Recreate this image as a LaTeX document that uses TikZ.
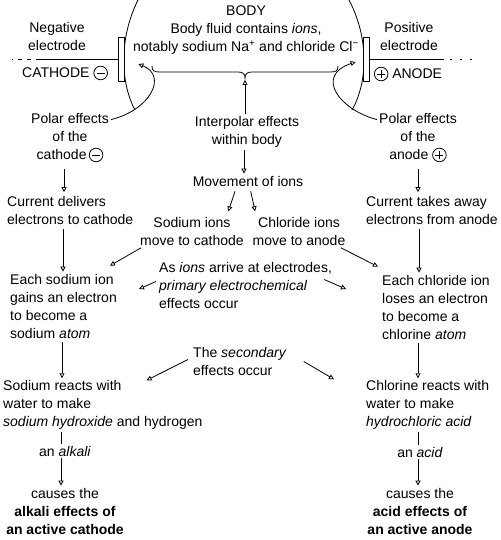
\documentclass[tikz,border=0pt]{standalone}
\usepackage{fontspec}
\setmainfont{Liberation Sans}
\usetikzlibrary{arrows.meta,calc}
\newcommand{\cminus}{\tikz[baseline=-5pt]{\draw[line width=0.8pt] (0pt,0pt) circle[radius=6.8pt]; \draw[line width=0.9pt] (-4pt,0pt) -- (4pt,0pt);}}
\newcommand{\cplus}{\tikz[baseline=-5pt]{\draw[line width=0.8pt] (0pt,0pt) circle[radius=6.8pt]; \draw[line width=0.9pt] (-4pt,0pt) -- (4pt,0pt) (0pt,-4pt) -- (0pt,4pt);}}
\begin{document}
\begin{tikzpicture}[x=1pt,y=-1pt,
 txt/.style={inner sep=2pt,font=\fontsize{14}{18}\selectfont},
 arr/.style={-{Triangle[open,length=5pt,width=5pt]},line width=0.8pt},
 lin/.style={line width=0.8pt},
 plate/.style={draw,fill=white,line width=0.8pt,minimum width=6pt,minimum height=44pt,inner sep=0pt}]
\fill[white] (0,0) rectangle (500,540);
\useasboundingbox (0,0) rectangle (500,540);

% body outline arcs
\draw[lin] (138,0) .. controls (119,38) and (120,82) .. (135,110);
\draw[lin] (349,0) .. controls (369,38) and (368,82) .. (352,110);

% electrode plates
\node[plate] (cplate) at (121,59) {};
\node[plate] (aplate) at (366,59) {};
\coordinate (cwire) at (40,59);
\coordinate (cwireend) at (12,59);
\coordinate (awire) at (444,59);
\coordinate (awireend) at (476,59);
\draw[lin] (cplate.west) -- (cwire);
\draw[lin,dash pattern=on 4pt off 5pt] (cwire) -- (cwireend);
\draw[lin] (aplate.east) -- (awire);
\draw[lin,dash pattern=on 2pt off 8pt] ([xshift=6pt]awire) -- (awireend);

% texts top
\node[txt,align=center] (body) at (246,30) {BODY\\Body fluid contains \textit{ions},\\notably sodium Na\textsuperscript{+} and chloride Cl\textsuperscript{−}};
\node[txt,align=center] (neg) at (57,36) {Negative\\electrode};
\node[txt] (cath) at (65,73) {CATHODE \cminus};
\node[txt,align=center] (posl) at (409,36) {Positive\\electrode};
\node[txt] (anod) at (408,74) {\cplus\ ANODE};

% brace
\coordinate (bracetip) at (245,78);
\draw[lin] (152,66) .. controls (152,71) and (154,72) .. (160,72) -- (238,72)
  .. controls (243,72) and (245,74) .. (bracetip)
  .. controls (245,74) and (247,72) .. (252,72) -- (330,72)
  .. controls (336,72) and (338,71) .. (338,66);

% left column
\node[txt,align=center] (polarL) at (70,138) {Polar effects\\of the\\cathode\,\cminus};
\node[txt,align=left,anchor=west] (currL) at (5,210.5) {Current delivers\\electrons to cathode};
\node[txt,align=left,anchor=west] (sodL) at (8,306) {Each sodium ion\\gains an electron\\to become a\\sodium \textit{atom}};
\node[txt,align=left,anchor=west] (reactL) at (1,405) {Sodium reacts with\\water to make\\\textit{sodium hydroxide} and hydrogen};
\node[txt] (alkali) at (65,451) {an \textit{alkali}};
\node[txt,align=center] (causesL) at (65,511) {causes the\\\textbf{alkali effects of}\\\textbf{an active cathode}};

% centre
\node[txt,align=center] (interp) at (247,132) {Interpolar effects\\within body};
\node[txt] (move) at (248,181) {Movement of ions};
\node[txt,align=center] (sodions) at (192,231.5) {Sodium ions\\move to cathode};
\node[txt,align=center] (clions) at (299,231.5) {Chloride ions\\move to anode};
\node[txt,align=left,anchor=west] (primary) at (157,285.5) {As \textit{ions} arrive at electrodes,\\\textit{primary electrochemical}\\effects occur};
\node[txt,align=left,anchor=west] (secondary) at (191,361.5) {The \textit{secondary}\\effects occur};

% right column
\node[txt,align=center] (polarR) at (418,138) {Polar effects\\of the\\anode \cplus};
\node[txt,align=left,anchor=west] (currR) at (364,210.5) {Current takes away\\electrons from anode};
\node[txt,align=left,anchor=west] (chlR) at (380,307) {Each chloride ion\\loses an electron\\to become a\\chlorine \textit{atom}};
\node[txt,align=left,anchor=west] (reactR) at (364,405) {Chlorine reacts with\\water to make\\\textit{hydrochloric acid}};
\node[txt] (acid) at (420,452) {an \textit{acid}};
\node[txt,align=center] (causesR) at (420,511) {causes the\\\textbf{acid effects of}\\\textbf{an active anode}};

% curved polar arrows
\draw[arr] ($(polarL.north east)+(0,8)$) .. controls (150,110) and (168,76) .. ($(cplate.east)+(14,5)$);
\draw[arr] ($(polarR.north west)+(0,8)$) .. controls (340,110) and (314,76) .. ($(aplate.west)+(-7,3)$);
\draw[arr] (interp.north -| bracetip) -- ([yshift=-2pt]bracetip);

% left column arrows
\draw[arr,shorten <=5pt,shorten >=2pt] (polarL.south -| 64,0) -- (currL.north -| 64,0);
\draw[arr,shorten <=2pt] (currL.south -| 63,0) -- (sodL.north -| 63,0);
\draw[arr,shorten <=2pt] (sodL.south -| 62,0) -- (reactL.north -| 62,0);
\draw[lin] (reactL.south -| 61,0) -- (alkali.north -| 61,0);
\draw[arr] (alkali.south -| 61,0) -- (causesL.north -| 61,0);

% centre arrows
\draw[arr] (interp.south -| 244,0) -- (move.north -| 244,0);
\draw[arr,shorten <=3pt,shorten >=4pt] (move.south -| 236,0) -- (sodions.north -| 227,0);
\draw[arr,shorten <=3pt,shorten >=4pt] (move.south -| 250,0) -- (clions.north -| 256,0);
\draw[arr] (sodions.south -| 141,0) -- ($(sodL.north -| 110,0)+(0,-6)$);
\draw[arr] (clions.south -| 341,0) -- ($(chlR.north -| 378,0)+(0,-6)$);
\draw[arr] ($(primary.west)+(-1,-4)$) -- ($(sodL.east)+(20,-17)$);
\draw[arr] ($(primary.east)+(-10,-6)$) -- ($(chlR.west)+(-34,-18)$);
\draw[arr] ($(secondary.west)+(-3,-2)$) -- ($(reactL.north east)+(-58,2)$);
\draw[arr] ($(secondary.east)+(15,0)$) -- ($(reactR.north west)+(-30,1)$);

% right column arrows
\draw[arr,shorten <=5pt,shorten >=2pt] (polarR.south -| 418,0) -- (currR.north -| 418,0);
\draw[arr,shorten <=2pt] (currR.south -| 419,0) -- (chlR.north -| 419,0);
\draw[arr,shorten <=2pt] (chlR.south -| 418,0) -- (reactR.north -| 418,0);
\draw[lin] (reactR.south -| 418,0) -- (acid.north -| 418,0);
\draw[arr] (acid.south -| 418,0) -- (causesR.north -| 418,0);
\end{tikzpicture}
\end{document}
